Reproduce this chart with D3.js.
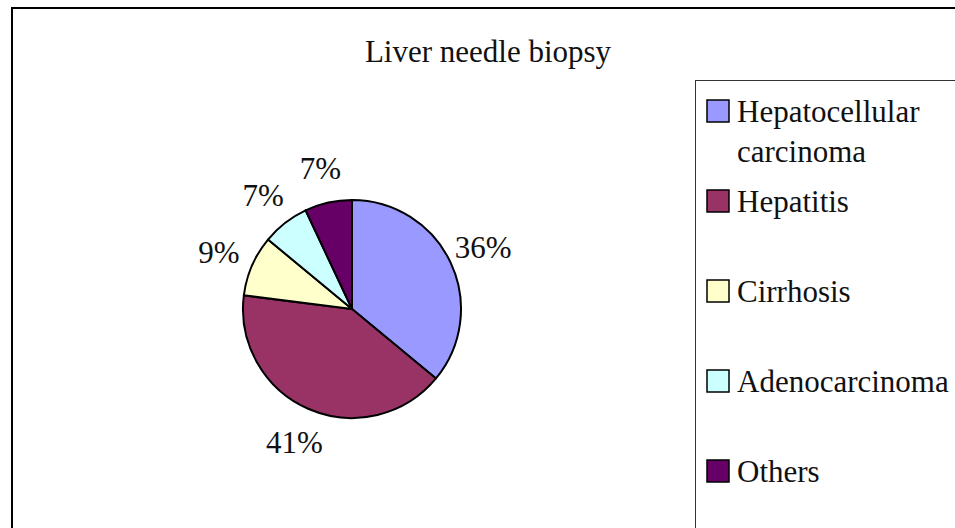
<!DOCTYPE html>
<html lang="en">
<head>
	<meta charset="UTF-8" />
	<script src="https://d3js.org/d3.v7.min.js"></script>
	<style type="text/css">
		body { margin: 0; background: #fff; }
		text { font-family: "Liberation Serif", "Times New Roman", serif; fill: #111; }
	</style>
	<title>Liver needle biopsy</title>
</head>
<body>
<script type="text/javascript">
	// Chart data
	var categories = ["Hepatocellular carcinoma", "Hepatitis", "Cirrhosis", "Adenocarcinoma", "Others"];
	var legendLines = [["Hepatocellular", "carcinoma"], ["Hepatitis"], ["Cirrhosis"], ["Adenocarcinoma"], ["Others"]];
	var values = [36, 41, 9, 7, 7];
	var colors = ["#9999FF", "#993366", "#FFFFCC", "#CCFFFF", "#660066"];

	var w = 955, h = 528;
	var cx = 352, cy = 309, r = 109;

	var svg = d3.select("body").append("svg")
	    .attr("width", w)
	    .attr("height", h);

	// Outer chart frame (runs off the right and bottom)
	svg.append("rect")
	   .attr("x", 12).attr("y", 8)
	   .attr("width", 1000).attr("height", 600)
	   .attr("fill", "none")
	   .attr("stroke", "#000")
	   .attr("stroke-width", 2);

	// Title
	svg.append("text")
	   .attr("x", 488).attr("y", 62)
	   .attr("text-anchor", "middle")
	   .attr("font-size", "31px")
	   .text("Liver needle biopsy");

	var total = d3.sum(values);
	var pie = d3.pie().sort(null).value(function(d) { return d; });
	var arcs = pie(values);

	var arc = d3.arc().innerRadius(0).outerRadius(r);
	var labelArc = d3.arc().innerRadius(145).outerRadius(145);

	var g = svg.append("g")
	    .attr("transform", "translate(" + cx + "," + cy + ")");

	g.selectAll(".slice")
	 .data(arcs)
	 .enter()
	 .append("path")
	 .attr("class", "slice")
	 .attr("d", arc)
	 .attr("fill", function(d, i) { return colors[i]; })
	 .attr("stroke", "#000")
	 .attr("stroke-width", 2)
	 .attr("stroke-linejoin", "round");

	g.selectAll(".pct")
	 .data(arcs)
	 .enter()
	 .append("text")
	 .attr("class", "pct")
	 .attr("transform", function(d) { return "translate(" + labelArc.centroid(d) + ")"; })
	 .attr("text-anchor", "middle")
	 .attr("dy", "0.36em")
	 .attr("font-size", "31px")
	 .text(function(d) { return Math.round(d.value / total * 100) + "%"; });

	// Legend box
	svg.append("rect")
	   .attr("x", 695.5).attr("y", 80.5)
	   .attr("width", 400).attr("height", 500)
	   .attr("fill", "none")
	   .attr("stroke", "#333")
	   .attr("stroke-width", 1);

	var ly = d3.scaleLinear().domain([0, 1]).range([122, 212]);

	var items = svg.selectAll(".legend")
	    .data(categories)
	    .enter()
	    .append("g")
	    .attr("class", "legend")
	    .attr("transform", function(d, i) { return "translate(0," + ly(i) + ")"; });

	items.append("rect")
	     .attr("x", 707).attr("y", -22)
	     .attr("width", 22).attr("height", 22)
	     .attr("fill", function(d, i) { return colors[i]; })
	     .attr("stroke", "#000")
	     .attr("stroke-width", 1.5);

	items.append("text")
	     .attr("font-size", "31px")
	     .each(function(d, i) {
	         var t = d3.select(this);
	         legendLines[i].forEach(function(line, k) {
	             t.append("tspan")
	              .attr("x", 737)
	              .attr("y", k * 40)
	              .text(line);
	         });
	     });
</script>
</body>
</html>
